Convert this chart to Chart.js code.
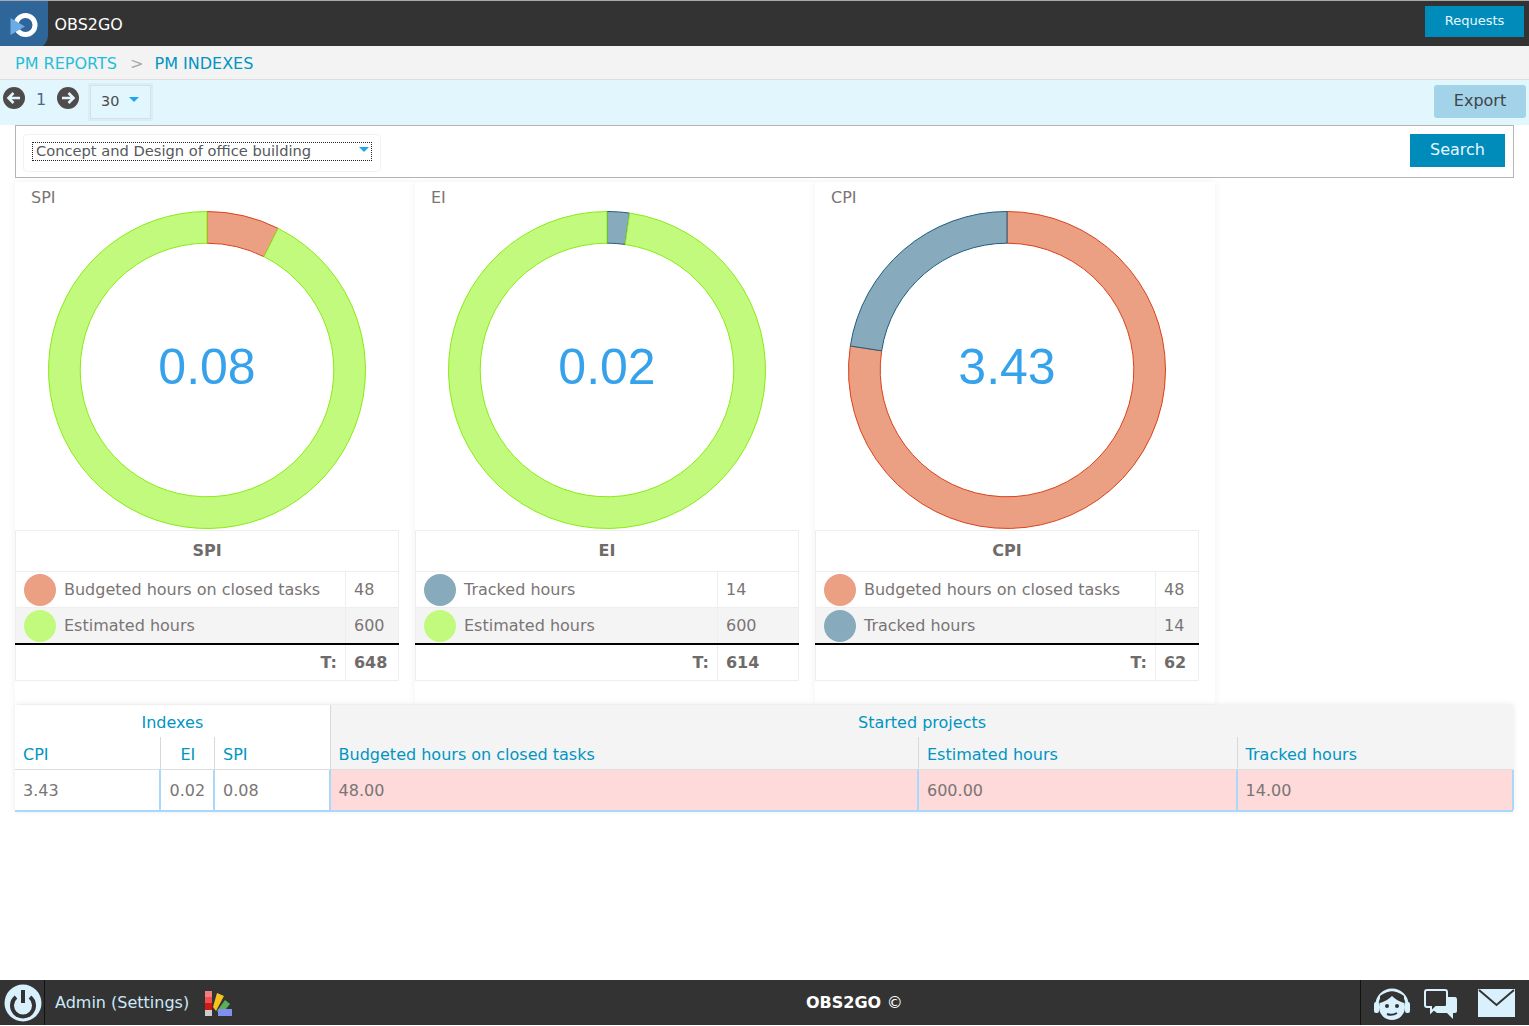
<!DOCTYPE html>
<html>
<head>
<meta charset="utf-8">
<title>OBS2GO</title>
<script src="https://cdn.jsdelivr.net/npm/chart.js@4"></script>
<style>
html, body { margin: 0; padding: 0; width: 1529px; height: 1026px; overflow: hidden; background: #fff; }
body { font-family: "DejaVu Sans", sans-serif; font-size: 16px; color: #7a7574; position: relative; }
.abs, .abs-text { position: absolute; }
.abs-text { white-space: nowrap; line-height: 20px; }
.link { color: #0095c3; }
.panel { position: absolute; top: 182px; width: 400px; height: 522px; box-shadow: 0 0 8px rgba(0,0,0,.06); background: #fff; }
.panel-title { position: absolute; left: 16px; top: 6px; font-size: 16px; line-height: 20px; }
.panel canvas { position: absolute; left: 32px; top: 28px; }
.center { position: absolute; left: 0; width: 384px; top: 155px; text-align: center; font: 50px/60px "Liberation Sans", sans-serif; color: #36a2eb; }
table.legend { position: absolute; left: 0; top: 348px; width: 384px; height: 150px; border-collapse: collapse; table-layout: fixed; font-size: 16px; }
table.legend td, table.legend th { border: 1px solid #eee; padding: 0 8px; }
table.legend th { height: 38px; padding-bottom: 2px; font-weight: bold; color: #6f6b6a; text-align: center; }
table.legend tr.row td { height: 35px; }
table.legend tr.alt td { background: #f4f4f4; }
table.legend tr.total td { font-weight: bold; color: #6f6b6a; border-top: 2px solid #000; height: 35px; }
.dot { display: inline-block; width: 32px; height: 32px; border-radius: 50%; vertical-align: middle; margin-right: 8px; }
.cell { position: absolute; white-space: nowrap; line-height: 20px; }
</style>
</head>
<body>
<!-- top bar -->
<div class="abs" style="left:0;top:0;width:1529px;height:1px;background:#aaa"></div>
<div class="abs" style="left:0;top:1px;width:1529px;height:45px;background:#333"></div>
<div class="abs" style="left:0;top:1px;width:48px;height:48px;background:#2f6699;border-bottom-right-radius:14px"></div>
<svg class="abs" style="left:9px;top:12px" width="30" height="28" viewBox="0 0 30 28">
  <circle cx="16.5" cy="13" r="9.5" fill="none" stroke="#fff" stroke-width="5"/>
  <polygon points="1.5,6 16,14.5 1.5,23" fill="#6cace4"/>
</svg>
<div class="abs-text" style="left:54.6px;top:15px;color:#fff;font-size:15.9px">OBS2GO</div>
<div class="abs-text" style="left:1425px;top:6px;width:99px;height:31px;line-height:29px;background:#008cba;color:#e8f7fd;text-align:center;font-size:13px">Requests</div>

<!-- breadcrumb -->
<div class="abs" style="left:0;top:46px;width:1529px;height:33px;background:#f3f3f3;border-bottom:1px solid #ddd"></div>
<div class="abs-text" style="left:15px;top:54px;color:#1fbfdc">PM REPORTS</div>
<div class="abs-text" style="left:130px;top:54px;color:#aaa">&gt;</div>
<div class="abs-text link" style="left:154.5px;top:54px">PM INDEXES</div>

<!-- pager row -->
<div class="abs" style="left:0;top:80px;width:1529px;height:45px;background:#e2f6fe"></div>
<svg class="abs" style="left:3px;top:87px" width="22" height="22" viewBox="0 0 22 22">
  <circle cx="11" cy="11" r="11" fill="#4f4b4b"/>
  <path d="M17 11H6M10.5 6L5.5 11L10.5 16" fill="none" stroke="#e2f6fe" stroke-width="2.6"/>
</svg>
<div class="abs-text" style="left:36px;top:90px;color:#4a6a8a">1</div>
<svg class="abs" style="left:57px;top:87px" width="22" height="22" viewBox="0 0 22 22">
  <circle cx="11" cy="11" r="11" fill="#4f4b4b"/>
  <path d="M5 11H16M11.5 6L16.5 11L11.5 16" fill="none" stroke="#e2f6fe" stroke-width="2.6"/>
</svg>
<div class="abs" style="left:90px;top:85px;width:59px;height:32px;border:1px solid #cfe3ea;outline:2px solid #dcedf5;outline-offset:0"></div>
<div class="abs-text" style="left:101px;top:91px;font-size:14.4px;color:#4a4a4a">30</div>
<div class="abs" style="left:129px;top:97px;border:5px solid transparent;border-top-color:#1ea7ee;border-bottom:0"></div>
<div class="abs-text" style="left:1434px;top:85px;width:92px;height:33px;line-height:31px;background:#a3d3e8;color:#3f4448;text-align:center;border-radius:3px">Export</div>

<!-- filter box -->
<div class="abs" style="left:15px;top:125px;width:1497px;height:51px;border:1px solid #b5b5b5"></div>
<div class="abs" style="left:23px;top:134px;width:356px;height:36px;border:1px solid #f2f2f2;border-radius:4px"></div>
<div class="abs" style="left:32px;top:142px;width:338px;height:17px;border:1px dotted #222"></div>
<div class="abs-text" style="left:36px;top:141px;font-size:14.67px;color:#55585c">Concept and Design of office building</div>
<div class="abs" style="left:359px;top:147px;border:5px solid transparent;border-top-color:#1ea7ee;border-bottom:0"></div>
<div class="abs-text" style="left:1410px;top:134px;width:95px;height:33px;line-height:31px;background:#008cba;color:#e8f7fd;text-align:center">Search</div>

<div id="panels"></div>
<div id="bottom"></div>

<!-- footer -->
<div class="abs" style="left:0;top:980px;width:1529px;height:45px;background:#333"></div>
<div class="abs" style="left:44px;top:980px;width:1px;height:45px;background:#111"></div>
<div class="abs" style="left:1360px;top:980px;width:1px;height:45px;background:#111"></div>
<svg class="abs" style="left:4px;top:984px" width="38" height="38" viewBox="0 0 38 38">
  <circle cx="19" cy="19" r="18.5" fill="#d9f1fd"/>
  <path d="M12 13A11 11 0 1 0 26 13" fill="none" stroke="#333" stroke-width="4"/>
  <path d="M19 6V19" stroke="#333" stroke-width="4"/>
</svg>
<div class="abs-text" style="left:55px;top:993px;color:#cbe9fa">Admin (Settings)</div>
<svg class="abs" style="left:205px;top:991px" width="27" height="26" viewBox="0 0 27 26">
  <rect x="0" y="0" width="7" height="6" fill="#f08080"/><rect x="0" y="6" width="7" height="6" fill="#f05050"/><rect x="0" y="12" width="7" height="7" fill="#d01818"/><rect x="0" y="19" width="7" height="6" fill="#ccc"/>
  <polygon points="8,16 12,2 19,5 11,20" fill="#f6c21c"/>
  <polygon points="12,20 20,9 25,13 16,24" fill="#5cae5c"/>
  <rect x="13" y="18" width="14" height="7" fill="#8090f0"/>
</svg>
<div class="abs-text" style="left:806px;top:993px;color:#fff;font-weight:bold">OBS2GO <span style="font-weight:normal">©</span></div>
<svg class="abs" style="left:1373px;top:985px" width="38" height="38" viewBox="0 0 38 38">
  <path d="M4 20A15 15 0 0 1 34 20" fill="none" stroke="#d9f1fd" stroke-width="3"/>
  <rect x="1" y="17" width="5" height="11" rx="2" fill="#d9f1fd"/><rect x="32" y="17" width="5" height="11" rx="2" fill="#d9f1fd"/>
  <circle cx="19" cy="22" r="13" fill="#d9f1fd"/>
  <path d="M7 18Q14 16 19 11Q24 16 31 18L31 11Q19 2 7 11Z" fill="#333"/>
  <circle cx="14" cy="21" r="2" fill="#333"/><circle cx="24" cy="21" r="2" fill="#333"/>
  <path d="M14 29Q19 31 24 28" fill="none" stroke="#333" stroke-width="2"/>
</svg>
<svg class="abs" style="left:1424px;top:988px" width="34" height="32" viewBox="0 0 34 32">
  <path d="M22 9H31Q33 9 33 12V23Q33 25 31 25H29V31L23 25H13L9 22" fill="#d9f1fd"/>
  <path d="M3 2H21Q23 2 23 4V17Q23 19 21 19H12L7 24V19H3Q1 19 1 17V4Q1 2 3 2Z" fill="#333" stroke="#d9f1fd" stroke-width="2"/>
</svg>
<svg class="abs" style="left:1478px;top:989px" width="37" height="28" viewBox="0 0 37 28">
  <rect width="37" height="28" fill="#d9f1fd"/>
  <path d="M1 1L18.5 16L36 1" fill="none" stroke="#333" stroke-width="2"/>
</svg>

<script>
const red = { fill: "#eb9f83", line: "#d8431a" };
const green = { fill: "#c2fa7e", line: "#8aea14" };
const blue = { fill: "#87abbc", line: "#1f5e7e" };

const spiLabels = ["Budgeted hours on closed tasks", "Estimated hours"];
const spiValues = [48, 600];
const eiLabels = ["Tracked hours", "Estimated hours"];
const eiValues = [14, 600];
const cpiLabels = ["Budgeted hours on closed tasks", "Tracked hours"];
const cpiValues = [48, 14];

const panels = [
    { name: "SPI", left: 15, index: "0.08", labels: spiLabels, values: spiValues, total: 648, colors: [red, green], valueW: 53 },
    { name: "EI", left: 415, index: "0.02", labels: eiLabels, values: eiValues, total: 614, colors: [blue, green], valueW: 81 },
    { name: "CPI", left: 815, index: "3.43", labels: cpiLabels, values: cpiValues, total: 62, colors: [red, blue], valueW: 43 }
];

function addPanel(p) {
    const div = document.createElement("div");
    div.className = "panel";
    div.style.left = p.left + "px";
    let rows = "";
    p.labels.forEach((label, i) => {
        rows += `<tr class="row ${i === 1 ? "alt" : ""}"><td style="overflow:hidden;white-space:nowrap"><span class="dot" style="background:${p.colors[i].fill}"></span>${label}</td><td>${p.values[i]}</td></tr>`;
    });
    div.innerHTML = `<div class="panel-title">${p.name}</div>
        <canvas width="320" height="320" style="width:320px;height:320px"></canvas>
        <div class="center">${p.index}</div>
        <table class="legend"><colgroup><col><col style="width:${p.valueW}px"></colgroup>
        <tr><th colspan="2">${p.name}</th></tr>${rows}
        <tr class="total"><td style="text-align:right">T:</td><td>${p.total}</td></tr></table>`;
    document.getElementById("panels").appendChild(div);

    new Chart(div.querySelector("canvas").getContext("2d"), {
        type: "doughnut",
        data: {
            labels: p.labels,
            datasets: [{
                data: p.values,
                backgroundColor: p.colors.map(c => c.fill),
                borderColor: p.colors.map(c => c.line),
                borderWidth: 1
            }]
        },
        options: {
            responsive: false,
            animation: false,
            cutout: "80%",
            layout: { padding: 1 },
            plugins: { legend: { display: false }, tooltip: { enabled: false } }
        }
    });
}
panels.forEach(addPanel);

const indexHeaders = ["CPI", "EI", "SPI"];
const indexValues = ["3.43", "0.02", "0.08"];
const startedHeaders = ["Budgeted hours on closed tasks", "Estimated hours", "Tracked hours"];
const startedValues = ["48.00", "600.00", "14.00"];

function addBox(left, top, width, height, color) {
    return `<div class="abs" style="left:${left}px;top:${top}px;width:${width}px;height:${height}px;background:${color}"></div>`;
}
function addText(left, top, text, cls) {
    return `<div class="cell ${cls || ""}" style="left:${left}px;top:${top}px">${text}</div>`;
}
let html = '<div class="abs" style="left:15px;top:705px;width:1498px;height:106px;box-shadow:0 0 6px rgba(0,0,0,.1)"></div>';
html += addBox(15, 705, 1498, 106, "#fff");
html += addBox(331, 705, 1182, 64, "#f4f4f4");
html += addBox(331, 770, 1182, 40, "#fedada");
html += addBox(15, 769, 1498, 1, "#ddd");
html += addBox(15, 810, 1498, 2, "#a8d8fb");
html += addBox(330, 705, 1, 64, "#d8d8d8");
html += addBox(160, 737, 1, 32, "#d8d8d8");
html += addBox(214, 737, 1, 32, "#d8d8d8");
html += addBox(918, 737, 1, 32, "#d8d8d8");
html += addBox(1237, 737, 1, 32, "#d8d8d8");
[159, 213, 329, 917, 1236, 1512].forEach(x => { html += addBox(x, 770, 2, 40, "#a8d8fb"); });
html += addText(141.5, 713, "Indexes", "link");
html += addText(858, 713, "Started projects", "link");
const indexX = [23, 180.5, 223];
const indexValueX = [23, 169.5, 223];
indexHeaders.forEach((h, i) => {
    html += addText(indexX[i], 745, h, "link");
    html += addText(indexValueX[i], 781, indexValues[i]);
});
const startedX = [338.6, 927, 1245.6];
startedHeaders.forEach((h, i) => {
    html += addText(startedX[i], 745, h, "link");
    html += addText(startedX[i], 781, startedValues[i]);
});
document.getElementById("bottom").innerHTML = html;
</script>
</body>
</html>
